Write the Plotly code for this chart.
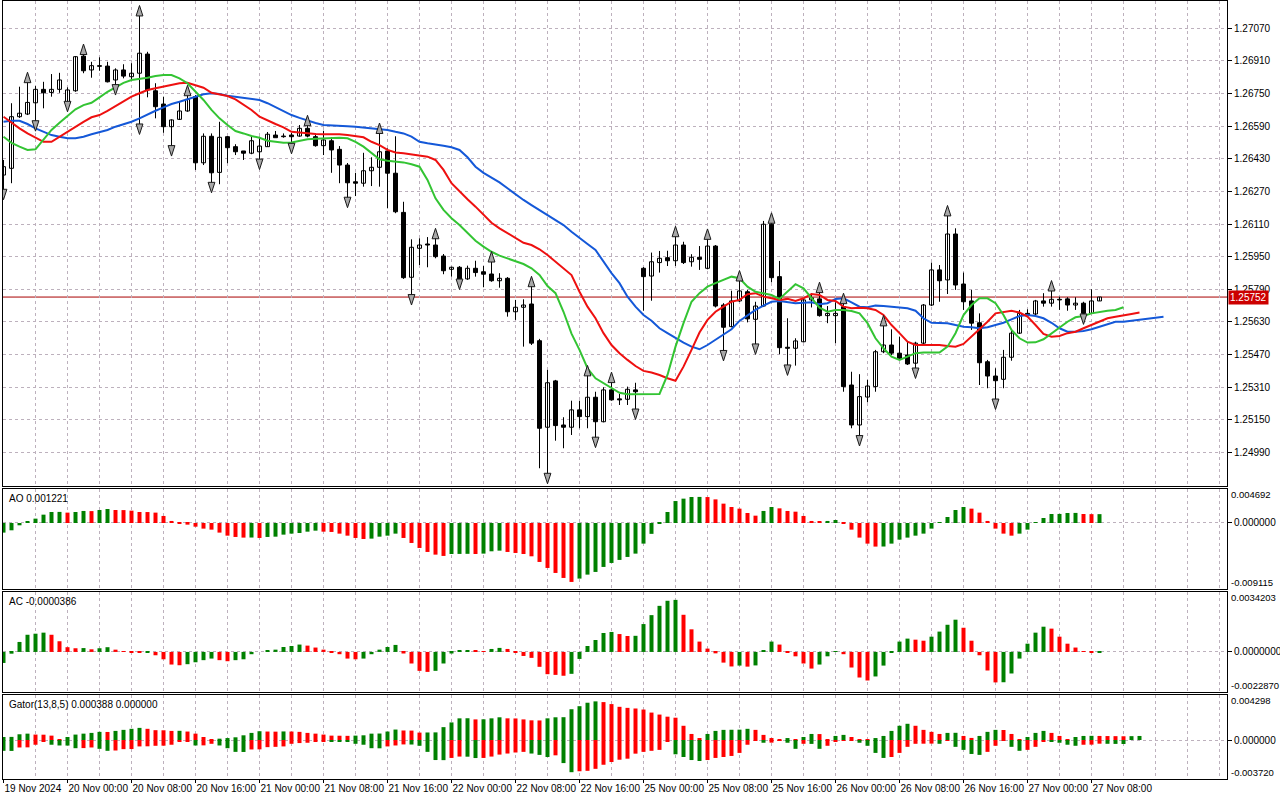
import numpy as np
import pandas as pd
import plotly.graph_objects as go

# GBPUSD H1, 19 Nov 16:00 .. 27 Nov 09:00 (weekend skipped)
OPEN = [
    1.26350, 1.26383, 1.26636, 1.26649, 1.26704, 1.26770, 1.26755, 1.26770, 1.26704, 1.26763,
    1.26933, 1.26865, 1.26886, 1.26884, 1.26816, 1.26865, 1.26832, 1.26849, 1.26943, 1.26763,
    1.26698, 1.26587, 1.26623, 1.26664, 1.26734, 1.26410, 1.26540, 1.26363, 1.26538, 1.26489,
    1.26468, 1.26457, 1.26464, 1.26489, 1.26546, 1.26541, 1.26546, 1.26541, 1.26579, 1.26538,
    1.26494, 1.26518, 1.26476, 1.26399, 1.26317, 1.26310, 1.26371, 1.26388, 1.26468, 1.26359,
    1.26167, 1.25849, 1.25991, 1.26012, 1.26007, 1.25953, 1.25888, 1.25898, 1.25841, 1.25893,
    1.25876, 1.25865, 1.25832, 1.25844, 1.25680, 1.25702, 1.25718, 1.25538, 1.25114, 1.25341,
    1.25125, 1.25114, 1.25199, 1.25166, 1.25261, 1.25141, 1.25297, 1.25253, 1.25251, 1.25297,
    1.25893, 1.25855, 1.25921, 1.25945, 1.25930, 1.26007, 1.25925, 1.25947, 1.25893, 1.26002,
    1.25713, 1.25607, 1.25733, 1.25778, 1.25643, 1.25708, 1.26109, 1.25852, 1.25506, 1.25501,
    1.25533, 1.25738, 1.25743, 1.25661, 1.25661, 1.25705, 1.25321, 1.25125, 1.25262, 1.25313,
    1.25484, 1.25517, 1.25477, 1.25468, 1.25428, 1.25526, 1.25713, 1.25885, 1.25836, 1.26061,
    1.25816, 1.25733, 1.25626, 1.25435, 1.25365, 1.25349, 1.25457, 1.25575, 1.25672, 1.25669,
    1.25733, 1.25722, 1.25741, 1.25743, 1.25713, 1.25722, 1.25672, 1.25733]
HIGH = [
    1.26424, 1.26702, 1.26783, 1.26816, 1.26786, 1.26807, 1.26845, 1.26851, 1.26780, 1.26933,
    1.26954, 1.26905, 1.26927, 1.26905, 1.26873, 1.26893, 1.26898, 1.27143, 1.26954, 1.26800,
    1.26734, 1.26623, 1.26709, 1.26752, 1.26742, 1.26554, 1.26554, 1.26611, 1.26541, 1.26501,
    1.26468, 1.26540, 1.26538, 1.26561, 1.26566, 1.26554, 1.26557, 1.26595, 1.26605, 1.26554,
    1.26567, 1.26535, 1.26492, 1.26409, 1.26361, 1.26459, 1.26437, 1.26567, 1.26481, 1.26540,
    1.26219, 1.26035, 1.26040, 1.26046, 1.26051, 1.25963, 1.25901, 1.25904, 1.25906, 1.25930,
    1.25904, 1.25937, 1.25869, 1.25850, 1.25738, 1.25741, 1.25816, 1.25547, 1.25395, 1.25346,
    1.25163, 1.25244, 1.25244, 1.25379, 1.25288, 1.25310, 1.25346, 1.25277, 1.25313, 1.25332,
    1.25899, 1.25970, 1.25978, 1.25979, 1.26061, 1.26023, 1.25962, 1.26002, 1.26048, 1.26007,
    1.25722, 1.25783, 1.25844, 1.25787, 1.25729, 1.26125, 1.26127, 1.25929, 1.25648, 1.25550,
    1.25743, 1.25771, 1.25787, 1.25708, 1.25726, 1.25733, 1.25386, 1.25374, 1.25346, 1.25493,
    1.25624, 1.25594, 1.25558, 1.25533, 1.25533, 1.25718, 1.25921, 1.25909, 1.26163, 1.26089,
    1.25872, 1.25787, 1.25672, 1.25444, 1.25403, 1.25493, 1.25587, 1.25689, 1.25692, 1.25738,
    1.25771, 1.25795, 1.25754, 1.25751, 1.25751, 1.25729, 1.25790, 1.25752]
LOW = [
    1.26267, 1.26310, 1.26630, 1.26644, 1.26603, 1.26677, 1.26734, 1.26753, 1.26698, 1.26758,
    1.26849, 1.26827, 1.26861, 1.26804, 1.26780, 1.26824, 1.26816, 1.26587, 1.26731, 1.26628,
    1.26557, 1.26481, 1.26620, 1.26660, 1.26375, 1.26399, 1.26301, 1.26305, 1.26408, 1.26448,
    1.26424, 1.26452, 1.26415, 1.26489, 1.26540, 1.26533, 1.26492, 1.26538, 1.26535, 1.26489,
    1.26448, 1.26361, 1.26310, 1.26228, 1.26247, 1.26293, 1.26296, 1.26293, 1.26187, 1.26163,
    1.25841, 1.25751, 1.25909, 1.25898, 1.25942, 1.25864, 1.25852, 1.25827, 1.25836, 1.25852,
    1.25800, 1.25827, 1.25798, 1.25656, 1.25640, 1.25509, 1.25517, 1.24913, 1.24875, 1.25048,
    1.25011, 1.25076, 1.25109, 1.25109, 1.25052, 1.25138, 1.25244, 1.25223, 1.25223, 1.25190,
    1.25685, 1.25734, 1.25872, 1.25904, 1.25904, 1.25914, 1.25901, 1.25885, 1.25888, 1.25701,
    1.25477, 1.25604, 1.25728, 1.25628, 1.25509, 1.25703, 1.25824, 1.25472, 1.25406, 1.25416,
    1.25530, 1.25701, 1.25656, 1.25624, 1.25526, 1.25288, 1.25109, 1.25060, 1.25236, 1.25288,
    1.25477, 1.25468, 1.25444, 1.25419, 1.25391, 1.25522, 1.25708, 1.25729, 1.25767, 1.25787,
    1.25689, 1.25591, 1.25321, 1.25305, 1.25239, 1.25305, 1.25440, 1.25571, 1.25659, 1.25664,
    1.25705, 1.25705, 1.25689, 1.25685, 1.25689, 1.25656, 1.25669, 1.25733]
CLOSE = [
    1.26391, 1.26636, 1.26653, 1.26706, 1.26770, 1.26753, 1.26770, 1.26816, 1.26767, 1.26930,
    1.26861, 1.26886, 1.26883, 1.26807, 1.26865, 1.26835, 1.26849, 1.26947, 1.26767, 1.26685,
    1.26587, 1.26620, 1.26664, 1.26721, 1.26410, 1.26540, 1.26361, 1.26535, 1.26484, 1.26464,
    1.26457, 1.26518, 1.26492, 1.26550, 1.26533, 1.26538, 1.26538, 1.26579, 1.26541, 1.26494,
    1.26522, 1.26473, 1.26399, 1.26312, 1.26310, 1.26371, 1.26388, 1.26464, 1.26359, 1.26170,
    1.25847, 1.25996, 1.26007, 1.26007, 1.25950, 1.25881, 1.25898, 1.25839, 1.25893, 1.25872,
    1.25864, 1.25832, 1.25844, 1.25680, 1.25702, 1.25713, 1.25526, 1.25109, 1.25332, 1.25122,
    1.25114, 1.25199, 1.25166, 1.25261, 1.25141, 1.25297, 1.25248, 1.25248, 1.25300, 1.25288,
    1.25852, 1.25925, 1.25942, 1.25930, 1.26007, 1.25921, 1.25947, 1.25937, 1.26002, 1.25708,
    1.25604, 1.25733, 1.25782, 1.25645, 1.25708, 1.26109, 1.25847, 1.25504, 1.25501, 1.25537,
    1.25738, 1.25748, 1.25661, 1.25672, 1.25672, 1.25313, 1.25125, 1.25264, 1.25316, 1.25484,
    1.25517, 1.25477, 1.25452, 1.25424, 1.25526, 1.25713, 1.25885, 1.25832, 1.26061, 1.25811,
    1.25729, 1.25624, 1.25430, 1.25365, 1.25342, 1.25457, 1.25575, 1.25672, 1.25664, 1.25733,
    1.25722, 1.25741, 1.25738, 1.25713, 1.25722, 1.25672, 1.25733, 1.25752]

# Alligator (shifted 8 / 5 / 3 bars forward)
JAW = [
    1.26611, 1.26616, 1.26616, 1.26600, 1.26579, 1.26562, 1.26546, 1.26538, 1.26530, 1.26530,
    1.26538, 1.26550, 1.26562, 1.26571, 1.26587, 1.26600, 1.26611, 1.26628, 1.26648, 1.26665,
    1.26682, 1.26698, 1.26709, 1.26721, 1.26734, 1.26746, 1.26751, 1.26747, 1.26739, 1.26734,
    1.26731, 1.26724, 1.26718, 1.26702, 1.26682, 1.26665, 1.26644, 1.26630, 1.26616, 1.26605,
    1.26595, 1.26592, 1.26590, 1.26589, 1.26587, 1.26583, 1.26579, 1.26575, 1.26571, 1.26562,
    1.26554, 1.26538, 1.26513, 1.26506, 1.26501, 1.26494, 1.26486, 1.26473, 1.26437, 1.26391,
    1.26361, 1.26339, 1.26314, 1.26285, 1.26256, 1.26228, 1.26203, 1.26179, 1.26154, 1.26133,
    1.26105, 1.26072, 1.26040, 1.26012, 1.25983, 1.25925, 1.25869, 1.25820, 1.25754, 1.25705,
    1.25664, 1.25636, 1.25599, 1.25575, 1.25550, 1.25529, 1.25509, 1.25496, 1.25517, 1.25542,
    1.25566, 1.25594, 1.25635, 1.25664, 1.25689, 1.25710, 1.25729, 1.25733, 1.25726, 1.25722,
    1.25724, 1.25726, 1.25717, 1.25722, 1.25743, 1.25746, 1.25726, 1.25705, 1.25702, 1.25710,
    1.25708, 1.25705, 1.25702, 1.25697, 1.25685, 1.25648, 1.25626, 1.25624, 1.25624, 1.25615,
    1.25607, 1.25604, 1.25599, 1.25604, 1.25615, 1.25626, 1.25643, 1.25659, 1.25664, 1.25659,
    1.25648, 1.25626, 1.25599, 1.25582, 1.25582, 1.25586, 1.25594, 1.25607, 1.25620, 1.25631,
    1.25631, 1.25636, 1.25643, 1.25648, 1.25653, 1.25656]
TEETH = [
    1.26636, 1.26606, 1.26579, 1.26554, 1.26533, 1.26513, 1.26513, 1.26538, 1.26562, 1.26584,
    1.26611, 1.26633, 1.26644, 1.26664, 1.26688, 1.26709, 1.26734, 1.26751, 1.26767, 1.26775,
    1.26783, 1.26791, 1.26800, 1.26802, 1.26791, 1.26778, 1.26753, 1.26746, 1.26737, 1.26721,
    1.26697, 1.26669, 1.26636, 1.26616, 1.26600, 1.26584, 1.26562, 1.26558, 1.26554, 1.26551,
    1.26550, 1.26550, 1.26550, 1.26546, 1.26541, 1.26535, 1.26513, 1.26497, 1.26473, 1.26461,
    1.26457, 1.26452, 1.26448, 1.26440, 1.26424, 1.26375, 1.26310, 1.26268, 1.26231, 1.26195,
    1.26154, 1.26116, 1.26089, 1.26065, 1.26040, 1.26018, 1.26007, 1.25986, 1.25958, 1.25925,
    1.25890, 1.25860, 1.25778, 1.25705, 1.25648, 1.25575, 1.25517, 1.25477, 1.25444, 1.25414,
    1.25390, 1.25382, 1.25370, 1.25354, 1.25342, 1.25411, 1.25493, 1.25578, 1.25640, 1.25680,
    1.25705, 1.25729, 1.25738, 1.25766, 1.25771, 1.25754, 1.25746, 1.25738, 1.25743, 1.25733,
    1.25746, 1.25767, 1.25762, 1.25738, 1.25733, 1.25705, 1.25697, 1.25700, 1.25697, 1.25689,
    1.25664, 1.25615, 1.25575, 1.25533, 1.25517, 1.25517, 1.25517, 1.25517, 1.25512, 1.25509,
    1.25522, 1.25558, 1.25594, 1.25631, 1.25672, 1.25680, 1.25685, 1.25676, 1.25656, 1.25615,
    1.25571, 1.25558, 1.25561, 1.25575, 1.25582, 1.25599, 1.25615, 1.25635, 1.25648, 1.25656,
    1.25664, 1.25669, 1.25676]
LIPS = [
    1.26538, 1.26508, 1.26489, 1.26473, 1.26476, 1.26522, 1.26571, 1.26606, 1.26639, 1.26672,
    1.26693, 1.26704, 1.26731, 1.26758, 1.26780, 1.26802, 1.26816, 1.26821, 1.26827, 1.26835,
    1.26840, 1.26840, 1.26824, 1.26800, 1.26758, 1.26718, 1.26669, 1.26628, 1.26595, 1.26566,
    1.26554, 1.26541, 1.26533, 1.26518, 1.26513, 1.26508, 1.26510, 1.26519, 1.26525, 1.26528,
    1.26530, 1.26532, 1.26533, 1.26530, 1.26513, 1.26489, 1.26457, 1.26427, 1.26420, 1.26415,
    1.26412, 1.26403, 1.26391, 1.26326, 1.26236, 1.26179, 1.26138, 1.26105, 1.26068, 1.26028,
    1.25999, 1.25974, 1.25955, 1.25942, 1.25929, 1.25914, 1.25893, 1.25860, 1.25806, 1.25771,
    1.25680, 1.25573, 1.25493, 1.25403, 1.25354, 1.25330, 1.25305, 1.25283, 1.25276, 1.25276,
    1.25276, 1.25276, 1.25277, 1.25370, 1.25509, 1.25624, 1.25729, 1.25771, 1.25803, 1.25820,
    1.25836, 1.25852, 1.25844, 1.25803, 1.25778, 1.25771, 1.25762, 1.25743, 1.25778, 1.25815,
    1.25795, 1.25746, 1.25700, 1.25680, 1.25689, 1.25689, 1.25684, 1.25672, 1.25624, 1.25550,
    1.25501, 1.25460, 1.25444, 1.25460, 1.25477, 1.25480, 1.25480, 1.25480, 1.25509, 1.25575,
    1.25664, 1.25713, 1.25746, 1.25746, 1.25722, 1.25664, 1.25591, 1.25550, 1.25529, 1.25530,
    1.25545, 1.25575, 1.25604, 1.25631, 1.25653, 1.25659, 1.25672, 1.25680, 1.25685, 1.25689,
    1.25702]

# bars carrying a fractal
FRACTAL_UP = [3, 10, 17, 23, 38, 47, 54, 61, 66, 73, 76, 84, 88, 92, 96, 102, 105, 110, 118, 131]
FRACTAL_DN = [0, 4, 8, 14, 17, 21, 26, 32, 36, 43, 51, 57, 68, 74, 79, 90, 94, 98, 107, 114, 124, 135]

AO = [
    -0.00133, -0.00101, -0.00032, 0.00018, 0.00060, 0.00115, 0.00152, 0.00153, 0.00143, 0.00152,
    0.00166, 0.00164, 0.00179, 0.00193, 0.00179, 0.00178, 0.00170, 0.00152, 0.00151, 0.00143,
    0.00097, 0.00028, -0.00010, -0.00023, -0.00051, -0.00078, -0.00092, -0.00133, -0.00175, -0.00193,
    -0.00202, -0.00201, -0.00207, -0.00193, -0.00189, -0.00161, -0.00147, -0.00138, -0.00120, -0.00106,
    -0.00120, -0.00124, -0.00147, -0.00175, -0.00207, -0.00221, -0.00216, -0.00189, -0.00175, -0.00147,
    -0.00207, -0.00276, -0.00345, -0.00400, -0.00437, -0.00455, -0.00428, -0.00427, -0.00426, -0.00428,
    -0.00423, -0.00391, -0.00382, -0.00400, -0.00414, -0.00428, -0.00460, -0.00538, -0.00621, -0.00690,
    -0.00759, -0.00814, -0.00768, -0.00713, -0.00676, -0.00607, -0.00552, -0.00510, -0.00469, -0.00423,
    -0.00285, -0.00150, -0.00009, 0.00152, 0.00303, 0.00336, 0.00359, 0.00360, 0.00358, 0.00326,
    0.00267, 0.00221, 0.00198, 0.00138, 0.00101, 0.00166, 0.00221, 0.00202, 0.00166, 0.00156,
    0.00097, 0.00028, 0.00018, 0.00028, 0.00041, -0.00009, -0.00092, -0.00202, -0.00285, -0.00326,
    -0.00325, -0.00285, -0.00230, -0.00202, -0.00175, -0.00147, -0.00078, 0.00001, 0.00083, 0.00179,
    0.00221, 0.00198, 0.00143, 0.00028, -0.00078, -0.00147, -0.00175, -0.00147, -0.00092, 0.00001,
    0.00069, 0.00124, 0.00125, 0.00138, 0.00139, 0.00124, 0.00122, 0.001221]
AC = [
    -0.00063, -0.00010, 0.00057, 0.00098, 0.00104, 0.00110, 0.00098, 0.00061, 0.00027, 0.00021,
    0.00022, 0.00015, 0.00021, 0.00027, 0.00013, 0.00002, -0.00002, -0.00004, -0.00003, -0.00019,
    -0.00042, -0.00072, -0.00076, -0.00070, -0.00059, -0.00047, -0.00038, -0.00047, -0.00053, -0.00047,
    -0.00042, -0.00013, 0.00000, 0.00006, 0.00013, 0.00028, 0.00034, 0.00042, 0.00036, 0.00025,
    0.00013, -0.00001, -0.00013, -0.00038, -0.00042, -0.00038, -0.00013, 0.00013, 0.00028, 0.00040,
    -0.00009, -0.00066, -0.00108, -0.00114, -0.00108, -0.00066, -0.00009, 0.00006, 0.00011, 0.00008,
    0.00004, 0.00017, 0.00023, 0.00017, -0.00002, -0.00023, -0.00034, -0.00085, -0.00127, -0.00131,
    -0.00136, -0.00125, -0.00040, 0.00034, 0.00068, 0.00108, 0.00114, 0.00102, 0.00091, 0.00092,
    0.00159, 0.00210, 0.00263, 0.00292, 0.00297, 0.00212, 0.00129, 0.00059, 0.00019, -0.00008,
    -0.00061, -0.00083, -0.00078, -0.00084, -0.00077, 0.00006, 0.00059, 0.00042, -0.00002, -0.00025,
    -0.00066, -0.00095, -0.00072, -0.00025, 0.00002, -0.00013, -0.00089, -0.00146, -0.00163, -0.00140,
    -0.00078, -0.00001, 0.00059, 0.00076, 0.00070, 0.00064, 0.00087, 0.00116, 0.00155, 0.00184,
    0.00138, 0.00064, -0.00019, -0.00106, -0.00174, -0.00173, -0.00123, -0.00038, 0.00047, 0.00110,
    0.00144, 0.00133, 0.00087, 0.00047, 0.00025, 0.00002, -0.00005, -0.0000386]
GATOR_UP = [
    0.00029, 0.00030, 0.00055, 0.00061, 0.00052, 0.00051, 0.00042, 0.00005, 0.00029, 0.00052,
    0.00061, 0.00068, 0.00078, 0.00077, 0.00087, 0.00097, 0.00107, 0.00116, 0.00107, 0.00094,
    0.00093, 0.00087, 0.00088, 0.00081, 0.00061, 0.00029, 0.00003, 0.00013, 0.00019, 0.00026,
    0.00045, 0.00068, 0.00084, 0.00081, 0.00080, 0.00082, 0.00081, 0.00078, 0.00068, 0.00061,
    0.00052, 0.00042, 0.00041, 0.00040, 0.00042, 0.00045, 0.00061, 0.00062, 0.00081, 0.00100,
    0.00091, 0.00090, 0.00071, 0.00072, 0.00073, 0.00123, 0.00168, 0.00207, 0.00208, 0.00197,
    0.00198, 0.00207, 0.00217, 0.00207, 0.00206, 0.00197, 0.00188, 0.00187, 0.00207, 0.00217,
    0.00218, 0.00294, 0.00323, 0.00356, 0.00369, 0.00362, 0.00343, 0.00317, 0.00307, 0.00301,
    0.00291, 0.00262, 0.00243, 0.00223, 0.00213, 0.00136, 0.00058, 0.00019, 0.00058, 0.00087,
    0.00097, 0.00098, 0.00099, 0.00107, 0.00097, 0.00049, 0.00019, 0.00008, 0.00019, 0.00010,
    0.00029, 0.00058, 0.00057, 0.00010, 0.00039, 0.00049, 0.00029, 0.00005, 0.00004, 0.00019,
    0.00039, 0.00087, 0.00136, 0.00155, 0.00136, 0.00097, 0.00078, 0.00058, 0.00068, 0.00069,
    0.00039, 0.00020, 0.00039, 0.00078, 0.00097, 0.00096, 0.00058, 0.00010, 0.00029, 0.00068,
    0.00087, 0.00068, 0.00039, 0.00010, 0.00029, 0.00039, 0.00040, 0.00039, 0.00038, 0.00037,
    0.00036, 0.00037, 0.000388]
GATOR_DN = [
    -0.00103, -0.00104, -0.00071, -0.00070, -0.00045, -0.00013, -0.00045, -0.00052, -0.00053, -0.00078,
    -0.00077, -0.00071, -0.00084, -0.00103, -0.00100, -0.00087, -0.00086, -0.00061, -0.00060, -0.00055,
    -0.00054, -0.00045, -0.00016, -0.00013, -0.00052, -0.00051, -0.00036, -0.00052, -0.00078, -0.00113,
    -0.00114, -0.00090, -0.00089, -0.00068, -0.00065, -0.00061, -0.00036, -0.00029, -0.00026, -0.00016,
    -0.00013, -0.00014, -0.00016, -0.00017, -0.00036, -0.00045, -0.00078, -0.00079, -0.00061, -0.00052,
    -0.00042, -0.00043, -0.00055, -0.00113, -0.00191, -0.00192, -0.00171, -0.00158, -0.00159, -0.00172,
    -0.00171, -0.00158, -0.00139, -0.00129, -0.00119, -0.00113, -0.00129, -0.00142, -0.00162, -0.00146,
    -0.00220, -0.00307, -0.00298, -0.00294, -0.00275, -0.00236, -0.00210, -0.00188, -0.00178, -0.00130,
    -0.00113, -0.00103, -0.00094, -0.00016, -0.00136, -0.00162, -0.00191, -0.00200, -0.00191, -0.00171,
    -0.00162, -0.00152, -0.00123, -0.00045, -0.00006, -0.00026, -0.00025, -0.00002, -0.00026, -0.00084,
    -0.00036, -0.00037, -0.00084, -0.00055, -0.00019, -0.00006, -0.00003, -0.00026, -0.00055, -0.00123,
    -0.00171, -0.00162, -0.00123, -0.00065, -0.00036, -0.00035, -0.00034, -0.00036, -0.00001, -0.00065,
    -0.00094, -0.00133, -0.00142, -0.00113, -0.00055, -0.00006, -0.00065, -0.00103, -0.00094, -0.00065,
    -0.00016, -0.00019, -0.00026, -0.00045, -0.00055, -0.00045, -0.00044, -0.00035, -0.00036, -0.00037,
    -0.00038]

# scale extremes shown on the right of each indicator window
AO_RANGE = [-0.009115, 0.004692]
AC_RANGE = [-0.0022870, 0.0034203]
GATOR_RANGE = [-0.003720, 0.004298]
PRICE_TICKS = [1.24990, 1.25150, 1.25310, 1.25470, 1.25630, 1.25790, 1.25950,
               1.26110, 1.26270, 1.26430, 1.26590, 1.26750, 1.26910, 1.27070]

TIMES = list(pd.date_range('2024-11-19 16:00', '2024-11-22 23:00', freq='h')) + \
        list(pd.date_range('2024-11-25 00:00', '2024-11-27 09:00', freq='h'))

# ---- styling
FONT = 'Liberation Sans'
GRID = '#bdb1bd'
GREEN = '#008000'
RED = '#ff0000'
XR = [-0.0625, 152.9375]
OFF = 0.00038  # fractal arrow distance from the bar

n = len(CLOSE)
x = np.arange(n)

label_idx = list(range(0, n, 8))
label_txt = [TIMES[i].strftime('%d %b %Y') if i == 0 else TIMES[i].strftime('%d %b %H:%M')
             for i in label_idx]
minor_idx = [i for i in range(4, 156, 4) if i not in label_idx]


def up_colors(vals):
    return [GREEN if i == 0 or vals[i] > vals[i - 1] else RED for i in range(len(vals))]


def abs_colors(vals):
    return [GREEN if i == 0 or abs(vals[i]) > abs(vals[i - 1]) else RED for i in range(len(vals))]


fig = go.Figure()

# wicks
wx, wy = [], []
for i in range(n):
    wx += [i, i, None]
    wy += [LOW[i], HIGH[i], None]
fig.add_trace(go.Scatter(x=wx, y=wy, mode='lines', line=dict(color='black', width=1),
                         hoverinfo='skip', xaxis='x', yaxis='y'))

# bodies
o = np.array(OPEN)
c = np.array(CLOSE)
base = np.minimum(o, c)
height = np.maximum(np.abs(c - o), 0.00002)
fill = ['white' if c[i] >= o[i] else 'black' for i in range(n)]
fig.add_trace(go.Bar(x=x, y=height, base=base, width=0.5,
                     marker=dict(color=fill, line=dict(color='black', width=1)),
                     xaxis='x', yaxis='y'))

# alligator
for vals, col in [(JAW, '#1458d8'), (TEETH, '#ee1010'), (LIPS, '#33c433')]:
    fig.add_trace(go.Scatter(x=np.arange(len(vals)), y=vals, mode='lines',
                             line=dict(color=col, width=2), xaxis='x', yaxis='y'))

# fractals
fig.add_trace(go.Scatter(x=FRACTAL_UP, y=[HIGH[i] + OFF for i in FRACTAL_UP], mode='markers',
                         marker=dict(symbol='arrow', size=11, color='#a8a8a8',
                                     line=dict(color='#1a1a1a', width=1)),
                         xaxis='x', yaxis='y'))
fig.add_trace(go.Scatter(x=FRACTAL_DN, y=[LOW[i] - OFF for i in FRACTAL_DN], mode='markers',
                         marker=dict(symbol='arrow', angle=180, size=11, color='#a8a8a8',
                                     line=dict(color='#1a1a1a', width=1)),
                         xaxis='x', yaxis='y'))

# AO / AC
fig.add_trace(go.Bar(x=x, y=AO, width=0.5, marker=dict(color=up_colors(AO), line=dict(width=0)),
                     xaxis='x2', yaxis='y2'))
fig.add_trace(go.Bar(x=x, y=AC, width=0.5, marker=dict(color=up_colors(AC), line=dict(width=0)),
                     xaxis='x3', yaxis='y3'))

# Gator
fig.add_trace(go.Bar(x=np.arange(len(GATOR_UP)), y=GATOR_UP, width=0.5,
                     marker=dict(color=up_colors(GATOR_UP), line=dict(width=0)),
                     xaxis='x4', yaxis='y4'))
fig.add_trace(go.Bar(x=np.arange(len(GATOR_DN)), y=GATOR_DN, width=0.5,
                     marker=dict(color=abs_colors(GATOR_DN), line=dict(width=0)),
                     xaxis='x4', yaxis='y4'))


# ---- axes
def xax(anchor, labels=False):
    return dict(range=XR, anchor=anchor, automargin=False, showline=True, mirror=True,
                linecolor='black', linewidth=1, zeroline=False, showgrid=True,
                gridcolor=GRID, griddash='3px,3px',
                tickmode='array', tickvals=label_idx, ticktext=label_txt, tickangle=0,
                showticklabels=labels, ticks='outside' if labels else '', ticklen=3,
                tickcolor='black', ticklabelposition='outside right',
                tickfont=dict(family=FONT, size=10, color='black'),
                minor=dict(tickmode='array', tickvals=minor_idx, showgrid=True,
                           gridcolor=GRID, griddash='3px,3px', ticks=''))


def yax(anchor, domain, rng, fmt, tickvals):
    return dict(anchor=anchor, domain=domain, range=rng, side='right', automargin=False,
                showline=True, mirror=True, linecolor='black', linewidth=1, zeroline=False,
                showgrid=True, gridcolor=GRID, griddash='3px,3px',
                tickmode='array', tickvals=tickvals, tickformat=fmt,
                ticks='outside', ticklen=4, tickcolor='black',
                tickfont=dict(family=FONT, size=10, color='black'))


fig.update_layout(
    width=1280, height=800,
    margin=dict(l=3, r=53, t=1, b=21, autoexpand=False),
    paper_bgcolor='white', plot_bgcolor='white',
    showlegend=False, barmode='overlay',
    font=dict(family=FONT, size=10, color='black'),
    xaxis=xax('y'), xaxis2=xax('y2'), xaxis3=xax('y3'), xaxis4=xax('y4', labels=True),
    yaxis=yax('x', [0.37661, 1.0], [1.24826, 1.27203], '.5f', PRICE_TICKS),
    yaxis2=yax('x2', [0.24422, 0.37275], AO_RANGE, '.6f', [0]),
    yaxis3=yax('x3', [0.11183, 0.24036], AC_RANGE, '.7f', [0]),
    yaxis4=yax('x4', [0.0, 0.10797], GATOR_RANGE, '.6f', [0]),
)

# current price line and label
last = CLOSE[-1]
fig.add_shape(type='line', xref='x domain', x0=0, x1=1, yref='y', y0=last, y1=last,
              line=dict(color='#a80000', width=1), layer='below')
fig.add_annotation(xref='paper', x=1, xanchor='left', xshift=1, yref='y', y=last,
                   text=f'{last:.5f}', showarrow=False, bgcolor='#cc0000', borderpad=1,
                   font=dict(family=FONT, size=10, color='white'))

# window captions
captions = [('y2', f'AO {AO[-1]:.6f}'),
            ('y3', f'AC {AC[-1]:.7f}'),
            ('y4', f'Gator(13,8,5) {GATOR_UP[-1]:.6f} {0:.6f}')]
for yref, txt in captions:
    fig.add_annotation(xref='paper', x=0, xanchor='left', xshift=4,
                       yref=f'{yref} domain', y=1, yanchor='top', yshift=-2,
                       text=txt, showarrow=False, font=dict(family=FONT, size=10, color='black'))

# min / max labels of indicator windows
for yref, rng, fmt in [('y2', AO_RANGE, '.6f'), ('y3', AC_RANGE, '.7f'), ('y4', GATOR_RANGE, '.6f')]:
    fig.add_annotation(xref='paper', x=1, xanchor='left', xshift=2, yref=f'{yref} domain',
                       y=1, yanchor='top', yshift=2, text=format(rng[1], fmt), showarrow=False,
                       font=dict(family=FONT, size=9.5, color='black'))
    fig.add_annotation(xref='paper', x=1, xanchor='left', xshift=2, yref=f'{yref} domain',
                       y=0, yanchor='bottom', yshift=-1, text=format(rng[0], fmt), showarrow=False,
                       font=dict(family=FONT, size=9.5, color='black'))

# the page's default body margin would push the 1280x800 figure out of the window
fig.write_html('out.html', config={'displayModeBar': False},
               post_script="document.body.style.margin='0';")
